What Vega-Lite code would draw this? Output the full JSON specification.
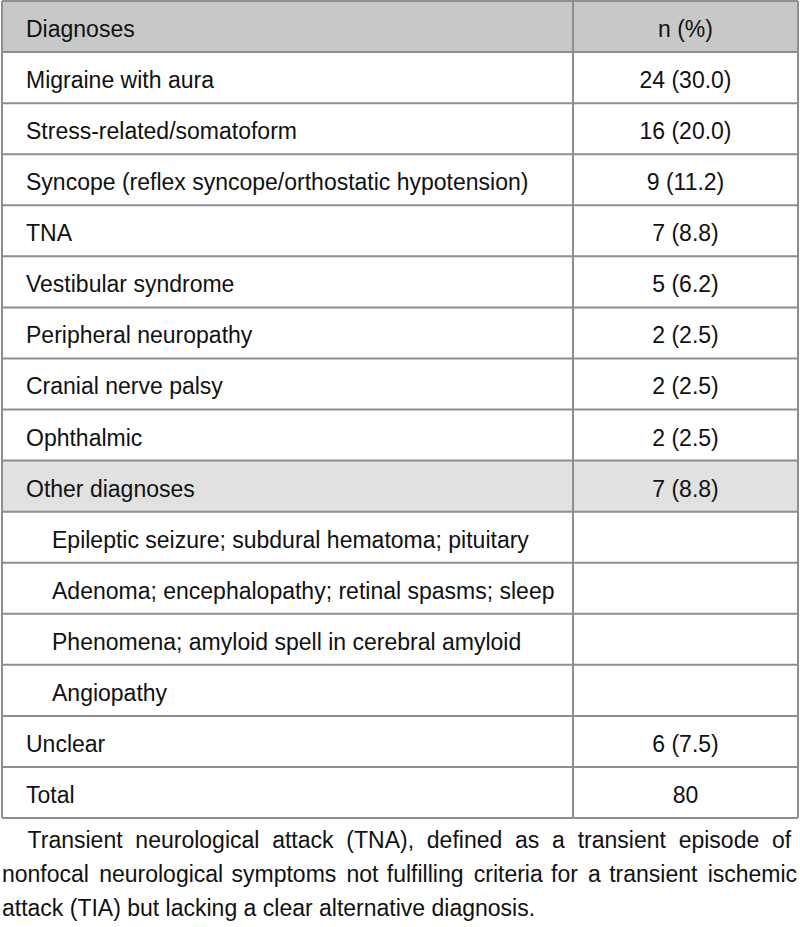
{
  "$schema": "https://vega.github.io/schema/vega-lite/v6.json",
  "width": 800,
  "height": 818,
  "padding": {"left": 0, "top": 0, "right": 0, "bottom": 109},
  "autosize": {"type": "none"},
  "background": "white",
  "view": {"stroke": null},
  "config": {"font": "Liberation Sans"},
  "title": {
    "text": [
      "\u200b\u00a0\u00a0\u00a0\u00a0Transient \u00a0neurological \u00a0attack \u00a0(TNA), \u00a0defined \u00a0as \u00a0a \u00a0transient \u00a0episode \u00a0of",
      "nonfocal \u2006neurological \u200asymptoms \u2006not \u200afulfilling \u2006criteria \u200afor \u2006a \u200atransient \u2006ischemic",
      "attack (TIA) but lacking a clear alternative diagnosis."
    ],
    "orient": "bottom",
    "anchor": "start",
    "frame": "group",
    "font": "Liberation Sans",
    "fontSize": 23,
    "fontWeight": "normal",
    "color": "#111111",
    "lineHeight": 34,
    "baseline": "top",
    "offset": 11,
    "dx": 2
  },
  "data": {
    "values": [
      {"row": 1, "kind": "header", "diagnosis": "Diagnoses", "n": "n (%)"},
      {"row": 2, "kind": "item", "diagnosis": "Migraine with aura", "n": "24 (30.0)"},
      {"row": 3, "kind": "item", "diagnosis": "Stress-related/somatoform", "n": "16 (20.0)"},
      {"row": 4, "kind": "item", "diagnosis": "Syncope (reflex syncope/orthostatic hypotension)", "n": "9 (11.2)"},
      {"row": 5, "kind": "item", "diagnosis": "TNA", "n": "7 (8.8)"},
      {"row": 6, "kind": "item", "diagnosis": "Vestibular syndrome", "n": "5 (6.2)"},
      {"row": 7, "kind": "item", "diagnosis": "Peripheral neuropathy", "n": "2 (2.5)"},
      {"row": 8, "kind": "item", "diagnosis": "Cranial nerve palsy", "n": "2 (2.5)"},
      {"row": 9, "kind": "item", "diagnosis": "Ophthalmic", "n": "2 (2.5)"},
      {"row": 10, "kind": "group", "diagnosis": "Other diagnoses", "n": "7 (8.8)"},
      {"row": 11, "kind": "sub", "diagnosis": "Epileptic seizure; subdural hematoma; pituitary", "n": ""},
      {"row": 12, "kind": "sub", "diagnosis": "Adenoma; encephalopathy; retinal spasms; sleep", "n": ""},
      {"row": 13, "kind": "sub", "diagnosis": "Phenomena; amyloid spell in cerebral amyloid", "n": ""},
      {"row": 14, "kind": "sub", "diagnosis": "Angiopathy", "n": ""},
      {"row": 15, "kind": "item", "diagnosis": "Unclear", "n": "6 (7.5)"},
      {"row": 16, "kind": "item", "diagnosis": "Total", "n": "80"}
    ]
  },
  "encoding": {
    "y": {
      "field": "row",
      "type": "ordinal",
      "scale": {"type": "band", "range": [1, 818], "paddingInner": 0, "paddingOuter": 0},
      "axis": null
    }
  },
  "layer": [
    {
      "transform": [{"filter": "datum.kind === 'header' || datum.kind === 'group'"}],
      "mark": {"type": "rect"},
      "encoding": {
        "x": {"value": 2},
        "x2": {"value": 798},
        "color": {
          "field": "kind",
          "type": "nominal",
          "scale": {"domain": ["header", "group"], "range": ["#c8c8c8", "#e1e1e1"]},
          "legend": null
        }
      }
    },
    {
      "mark": {"type": "rule", "color": "#8e8e8e", "strokeWidth": 2},
      "encoding": {
        "y": {"field": "row", "type": "ordinal", "bandPosition": 0},
        "x": {"value": 2},
        "x2": {"value": 798}
      }
    },
    {
      "transform": [{"filter": "datum.row === 16"}],
      "mark": {"type": "rule", "color": "#8e8e8e", "strokeWidth": 2},
      "encoding": {
        "y": {"field": "row", "type": "ordinal", "bandPosition": 1},
        "x": {"value": 2},
        "x2": {"value": 798}
      }
    },
    {
      "transform": [{"filter": "datum.row === 1"}],
      "mark": {"type": "rule", "color": "#8e8e8e", "strokeWidth": 2},
      "encoding": {"x": {"value": 2}, "y": {"value": 1}, "y2": {"value": 818}}
    },
    {
      "transform": [{"filter": "datum.row === 1"}],
      "mark": {"type": "rule", "color": "#8e8e8e", "strokeWidth": 2},
      "encoding": {"x": {"value": 573}, "y": {"value": 1}, "y2": {"value": 818}}
    },
    {
      "transform": [{"filter": "datum.row === 1"}],
      "mark": {"type": "rule", "color": "#8e8e8e", "strokeWidth": 2},
      "encoding": {"x": {"value": 798}, "y": {"value": 1}, "y2": {"value": 818}}
    },
    {
      "transform": [{"filter": "datum.kind !== 'sub'"}],
      "mark": {"type": "text", "align": "left", "baseline": "alphabetic", "fontSize": 23, "color": "#111111", "dy": 10.5},
      "encoding": {
        "x": {"value": 26},
        "text": {"field": "diagnosis"}
      }
    },
    {
      "transform": [{"filter": "datum.kind === 'sub'"}],
      "mark": {"type": "text", "align": "left", "baseline": "alphabetic", "fontSize": 23, "color": "#111111", "dy": 10.5},
      "encoding": {
        "x": {"value": 52},
        "text": {"field": "diagnosis"}
      }
    },
    {
      "mark": {"type": "text", "align": "center", "baseline": "alphabetic", "fontSize": 23, "color": "#111111", "dy": 10.5},
      "encoding": {
        "x": {"value": 685.5},
        "text": {"field": "n"}
      }
    }
  ]
}
